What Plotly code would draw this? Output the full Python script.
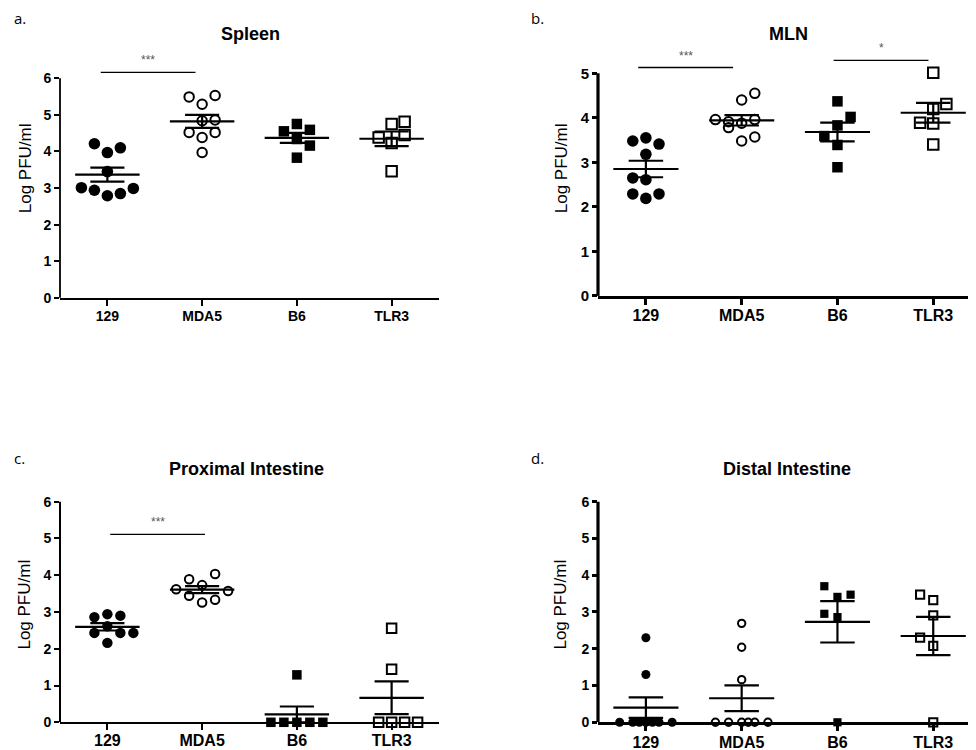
import numpy as np
import plotly.graph_objects as go

groups = ["129", "MDA5", "B6", "TLR3"]

# ---------------- data (Log PFU/ml) ----------------
# a. Spleen
spleen_129 = [4.21, 3.97, 4.10, 3.45, 3.01, 2.94, 2.79, 2.85, 2.99]
spleen_mda5 = [5.49, 5.29, 5.53, 4.84, 4.86, 4.52, 4.38, 4.52, 3.97]
spleen_b6 = [4.75, 4.55, 4.59, 4.34, 4.16, 3.83]
spleen_tlr3 = [4.75, 4.81, 4.38, 4.23, 4.45, 3.46]
# b. MLN
mln_129 = [3.48, 3.55, 3.41, 3.18, 2.65, 2.61, 2.29, 2.19, 2.29]
mln_mda5 = [3.96, 3.91, 3.78, 3.88, 3.96, 3.48, 3.57, 4.40, 4.55]
mln_b6 = [4.37, 4.02, 3.83, 3.59, 3.39, 2.89]
mln_tlr3 = [5.01, 4.31, 4.20, 3.89, 3.87, 3.40]
# c. Proximal Intestine
prox_129 = [2.86, 2.94, 2.90, 2.61, 2.43, 2.43, 2.43, 2.16]
prox_mda5 = [3.89, 4.03, 3.73, 3.62, 3.57, 3.44, 3.26, 3.33]
prox_b6 = [1.29, 0, 0, 0, 0, 0]
prox_tlr3 = [2.56, 1.44, 0, 0, 0, 0]
# d. Distal Intestine
dist_129 = [2.30, 1.30, 0, 0, 0, 0, 0, 0, 0]
dist_mda5 = [2.69, 2.04, 1.16, 0, 0, 0, 0, 0, 0]
dist_b6 = [3.70, 3.41, 3.47, 2.95, 2.86, 0]
dist_tlr3 = [3.47, 3.32, 2.91, 2.30, 2.08, 0]

# scatter-dot column slots (which sub-column of the dot plot each point sits in)
spleen_slots = [[-1, 0, 1, 0, -2, -1, 0, 1, 2], [-1, 0, 1, 0, 1, -1, 0, 1, 0],
                [0, -1, 1, 0, 1, 0], [0, 1, -1, 0, 1, 0]]
mln_slots = [[-1, 0, 1, 0, -1, 0, -1, 0, 1], [-2, -1, -1, 0, 1, 0, 1, 0, 1],
             [0, 1, 0, -1, 0, 0], [0, 1, 0, -1, 0, 0]]
prox_slots = [[-1, 0, 1, 0, -1, 1, 2, 0], [-1, 1, 0, -2, 2, -1, 0, 1],
              [0, -2, -1, 0, 1, 2], [0, 0, -1, 0, 1, 2]]
dist_slots = [[0, 0, -2, -1, -0.5, 0, 0.5, 1, 2], [0, 0, 0, -2, -1, 0, 0.5, 1, 2],
              [-1, 0, 1, -1, 0, 0], [-1, 0, 0, -1, 0, 0]]

# significance brackets: (x0, x1, y, label)
spleen_sig = [(-0.07, 0.93, 6.16, "***")]
mln_sig = [(-0.08, 0.91, 5.13, "***"), (1.96, 2.95, 5.29, "*")]
prox_sig = [(0.03, 1.03, 5.11, "***")]
dist_sig = []

panels = [
    dict(letter="a.", title="Spleen", vals=[spleen_129, spleen_mda5, spleen_b6, spleen_tlr3],
         slots=spleen_slots, sig=spleen_sig, ytop=6),
    dict(letter="b.", title="MLN", vals=[mln_129, mln_mda5, mln_b6, mln_tlr3],
         slots=mln_slots, sig=mln_sig, ytop=5),
    dict(letter="c.", title="Proximal Intestine", vals=[prox_129, prox_mda5, prox_b6, prox_tlr3],
         slots=prox_slots, sig=prox_sig, ytop=6),
    dict(letter="d.", title="Distal Intestine", vals=[dist_129, dist_mda5, dist_b6, dist_tlr3],
         slots=dist_slots, sig=dist_sig, ytop=6),
]

# ---------------- layout geometry ----------------
W, H = 976, 750
def px_x(p): return p / W
def px_y(p): return 1 - p / H

geo = [
    dict(xd=[px_x(52), px_x(431)], yd=[px_y(293), px_y(45.1)], yr=[0, 6.7], lw=1.8,
         xfs=14, yfs=14, stand=-2, letter_xy=(4, 10), title_xy=(242, 26),
         ytitle_xy=(17, 162), msz=1.05),
    dict(xd=[px_x(590), px_x(976)], yd=[px_y(291), px_y(30)], yr=[0, 5.8], lw=3.2,
         xfs=16, yfs=15, stand=-3, letter_xy=(521, 10), title_xy=(780, 26),
         ytitle_xy=(553, 162), msz=1.05),
    dict(xd=[px_x(52), px_x(431)], yd=[px_y(722), px_y(487.8)], yr=[0, 6.3], lw=2.0,
         xfs=16, yfs=14, stand=-3, letter_xy=(4, 455), title_xy=(238, 466),
         ytitle_xy=(17, 603), msz=0.95),
    dict(xd=[px_x(590), px_x(976)], yd=[px_y(722), px_y(487.8)], yr=[0, 6.3], lw=3.2,
         xfs=16, yfs=14, stand=-3, letter_xy=(521, 455), title_xy=(779, 466),
         ytitle_xy=(553, 603), msz=0.82),
]

marker_styles = [
    dict(symbol="circle", color="black", size=11, line=dict(color="black", width=0)),
    dict(symbol="circle-open", color="black", size=9, line=dict(color="black", width=2)),
    dict(symbol="square", color="black", size=10, line=dict(color="black", width=0)),
    dict(symbol="square-open", color="black", size=10, line=dict(color="black", width=2)),
]

SLOT = 0.137
MEAN_HW = 0.34
CAP_HW = 0.18

fig = go.Figure()
shapes = []
annotations = []
layout_axes = {}

for k, (p, g) in enumerate(zip(panels, geo)):
    n = k + 1
    xa = "x" if n == 1 else f"x{n}"
    ya = "y" if n == 1 else f"y{n}"
    xkey = "xaxis" if n == 1 else f"xaxis{n}"
    ykey = "yaxis" if n == 1 else f"yaxis{n}"

    # points
    for gi, (vals, slots) in enumerate(zip(p["vals"], p["slots"])):
        ms = dict(marker_styles[gi])
        ms["size"] = ms["size"] * g["msz"]
        xs = [gi + s * SLOT for s in slots]
        fig.add_trace(go.Scatter(x=xs, y=vals, mode="markers", marker=ms,
                                 xaxis=xa, yaxis=ya, cliponaxis=False,
                                 showlegend=False, hoverinfo="y"))
    # mean +/- SEM
    lx, ly = [], []
    for gi, vals in enumerate(p["vals"]):
        v = np.array(vals, dtype=float)
        m = v.mean()
        sem = v.std(ddof=1) / np.sqrt(len(v))
        lx += [gi - MEAN_HW, gi + MEAN_HW, None,
               gi, gi, None,
               gi - CAP_HW, gi + CAP_HW, None,
               gi - CAP_HW, gi + CAP_HW, None]
        ly += [m, m, None,
               m - sem, m + sem, None,
               m + sem, m + sem, None,
               m - sem, m - sem, None]
    fig.add_trace(go.Scatter(x=lx, y=ly, mode="lines", line=dict(color="black", width=2.2),
                             xaxis=xa, yaxis=ya, showlegend=False, hoverinfo="skip"))

    layout_axes[xkey] = dict(
        domain=g["xd"], anchor=ya, range=[-0.5, 3.5 if n in (1, 3) else 3.53],
        tickmode="array",
        tickvals=[0, 1, 2, 3], ticktext=groups, showgrid=False, zeroline=False,
        showline=True, linecolor="black", linewidth=g["lw"], ticks="outside",
        ticklen=6, tickwidth=g["lw"], tickcolor="black", ticklabelstandoff=g["stand"],
        tickfont=dict(family="Liberation Sans, Arial, sans-serif", size=g["xfs"],
                      color="black", weight="bold"),
        fixedrange=True)
    layout_axes[ykey] = dict(
        domain=g["yd"], anchor=xa, range=g["yr"], tickmode="array",
        tickvals=list(range(0, p["ytop"] + 1)), showgrid=False, zeroline=False,
        showline=False, ticks="outside", ticklen=5, tickwidth=g["lw"], tickcolor="black",
        tickfont=dict(family="Liberation Sans, Arial, sans-serif", size=g["yfs"],
                      color="black", weight="bold"),
        fixedrange=True)

    # y axis line, stopping at top tick
    shapes.append(dict(type="line", xref=f"{xa} domain", yref=ya, x0=0, x1=0,
                       y0=0, y1=p["ytop"], line=dict(color="black", width=g["lw"])))

    # significance brackets
    for (x0, x1, yv, lab) in p["sig"]:
        shapes.append(dict(type="line", xref=xa, yref=ya, x0=x0, x1=x1, y0=yv, y1=yv,
                           line=dict(color="black", width=1.3)))
        annotations.append(dict(x=(x0 + x1) / 2, y=yv, xref=xa, yref=ya, text=lab,
                                showarrow=False, yanchor="bottom", yshift=3,
                                font=dict(family="Liberation Sans, Arial", size=12,
                                          color="#555555")))

    # titles & labels
    tx, ty = g["title_xy"]
    annotations.append(dict(x=px_x(tx), y=px_y(ty), xref="paper", yref="paper",
                            text=p["title"], showarrow=False, xanchor="center", yanchor="middle",
                            font=dict(family="Liberation Sans, Arial", size=18, color="black",
                                      weight="bold")))
    lx0, ly0 = g["letter_xy"]
    annotations.append(dict(x=px_x(lx0), y=px_y(ly0), xref="paper", yref="paper",
                            text=p["letter"], showarrow=False, xanchor="left", yanchor="middle",
                            font=dict(family="Open Sans, Noto Sans, sans-serif", size=15,
                                      color="black")))
    yx, yy = g["ytitle_xy"]
    annotations.append(dict(x=px_x(yx), y=px_y(yy), xref="paper", yref="paper",
                            text="Log PFU/ml", showarrow=False, textangle=-90,
                            xanchor="center", yanchor="middle",
                            font=dict(family="Liberation Sans, Arial", size=17, color="black")))

fig.update_layout(
    width=W, height=H, autosize=False,
    margin=dict(l=0, r=0, t=0, b=0),
    paper_bgcolor="white", plot_bgcolor="white",
    shapes=shapes, annotations=annotations,
    **layout_axes,
)

fig.write_html("out.html")
